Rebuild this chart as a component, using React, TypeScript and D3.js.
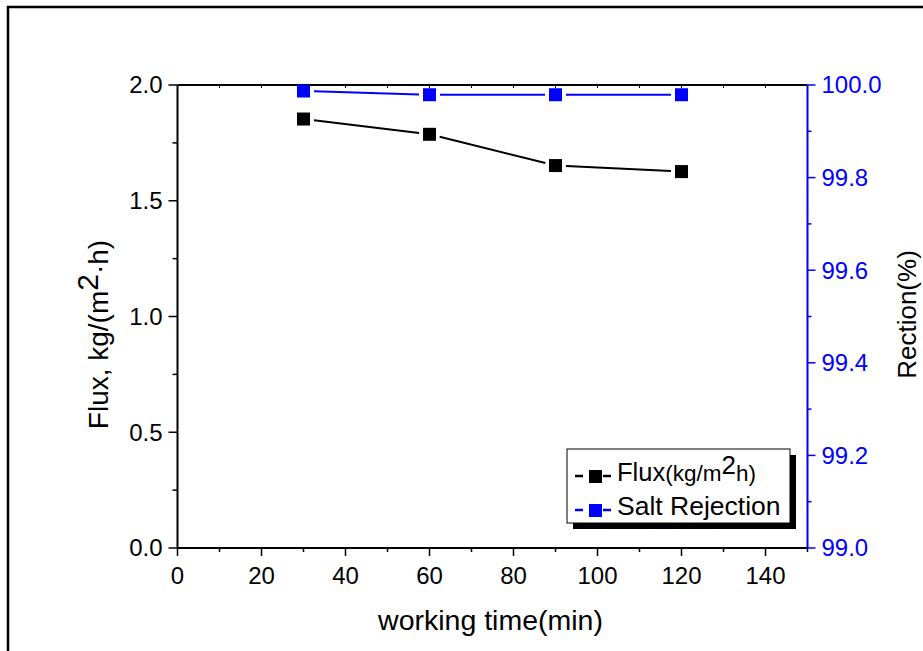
import React from 'react';
import * as d3 from 'd3';

// data
const times = [30, 60, 90, 120];
const flux = [1.853, 1.787, 1.652, 1.626];
const rejection = [99.987, 99.979, 99.979, 99.979];

const xTicks = [0, 20, 40, 60, 80, 100, 120, 140];
const xMinor = [10, 30, 50, 70, 90, 110, 130, 150];
const yLeftTicks = [0, 0.5, 1.0, 1.5, 2.0];
const yLeftMinor = [0.25, 0.75, 1.25, 1.75];
const yRightTicks = [99.0, 99.2, 99.4, 99.6, 99.8, 100.0];
const yRightMinor = [99.1, 99.3, 99.5, 99.7, 99.9];

const FONT = "'Liberation Sans', Arial, sans-serif";
const BLUE = '#0000ff';

// draws line pieces between markers, leaving a small gap near each marker
function gappedSegments(pts: [number, number][], gap: number) {
    const segs = [];
    for (let i = 0; i < pts.length - 1; i++) {
        const [x1, y1] = pts[i];
        const [x2, y2] = pts[i + 1];
        const len = Math.hypot(x2 - x1, y2 - y1);
        const ux = (x2 - x1) / len;
        const uy = (y2 - y1) / len;
        segs.push({
            x1: x1 + ux * gap, y1: y1 + uy * gap,
            x2: x2 - ux * gap, y2: y2 - uy * gap
        });
    }
    return segs;
}

export default function App() {
    const width = 923;
    const height = 651;
    const left = 177.5;
    const right = 807.5;
    const top = 85;
    const bottom = 548;

    const x = d3.scaleLinear().domain([0, 150]).range([left, right]);
    const yL = d3.scaleLinear().domain([0, 2]).range([bottom, top]);
    const yR = d3.scaleLinear().domain([99, 100]).range([bottom, top]);

    const fluxPts: [number, number][] = times.map((t, i) => [x(t), yL(flux[i])]);
    const rejPts: [number, number][] = times.map((t, i) => [x(t), yR(rejection[i])]);
    const ms = 13; // marker size

    const tickFont = 24;

    return (
        <svg width={width} height={height}
            style={{ position: 'absolute', left: 0, top: 0, background: '#fff' }}
            fontFamily={FONT}>
            <rect x={0} y={0} width={width} height={height} fill="#fff" />
            {/* outer frame */}
            <path d={`M8,${height} V7 H${width}`} fill="none" stroke="#000" strokeWidth={2.5} />

            {/* top axis */}
            <line x1={left} x2={right} y1={top} y2={top} stroke="#000" strokeWidth={2} />
            {[...xTicks, ...xMinor].filter(t => t > 0 && t < 150).map(t => (
                <line key={'tt' + t} x1={x(t)} x2={x(t)} y1={top} y2={top + 3} stroke="#000" strokeWidth={1} />
            ))}

            {/* bottom axis */}
            <line x1={left} x2={right} y1={bottom} y2={bottom} stroke="#000" strokeWidth={2} />
            {xTicks.map(t => (
                <g key={'bx' + t}>
                    <line x1={x(t)} x2={x(t)} y1={bottom} y2={bottom + 8} stroke="#000" strokeWidth={1.5} />
                    <text x={x(t)} y={bottom + 36} textAnchor="middle" fontSize={tickFont}>{t}</text>
                </g>
            ))}
            {xMinor.map(t => (
                <line key={'bm' + t} x1={x(t)} x2={x(t)} y1={bottom} y2={bottom + 4} stroke="#000" strokeWidth={1.5} />
            ))}
            <text x={x(75) - 2} y={630} textAnchor="middle" fontSize={28.5}>working time(min)</text>

            {/* left axis */}
            <line x1={left} x2={left} y1={top} y2={bottom} stroke="#000" strokeWidth={2} />
            {yLeftTicks.map(t => (
                <g key={'ly' + t}>
                    <line x1={left - 9} x2={left} y1={yL(t)} y2={yL(t)} stroke="#000" strokeWidth={1.5} />
                    <text x={left - 15} y={yL(t)} dy="0.35em" textAnchor="end" fontSize={tickFont}>{t.toFixed(1)}</text>
                </g>
            ))}
            {yLeftMinor.map(t => (
                <line key={'lm' + t} x1={left - 5} x2={left} y1={yL(t)} y2={yL(t)} stroke="#000" strokeWidth={1.5} />
            ))}
            <text transform={`translate(108,${yL(1) + 18}) rotate(-90)`} textAnchor="middle" fontSize={28}>
                Flux, kg/(m<tspan fontSize={30} dy={-10}>2</tspan><tspan dy={10}>·h)</tspan>
            </text>

            {/* right axis */}
            <line x1={right} x2={right} y1={top} y2={bottom} stroke={BLUE} strokeWidth={2} />
            {yRightTicks.map(t => (
                <g key={'ry' + t}>
                    <line x1={right} x2={right + 8} y1={yR(t)} y2={yR(t)} stroke={BLUE} strokeWidth={1.5} />
                    <text x={right + 14} y={yR(t)} dy="0.35em" fill={BLUE} fontSize={tickFont}>{t.toFixed(1)}</text>
                </g>
            ))}
            {yRightMinor.map(t => (
                <line key={'rm' + t} x1={right} x2={right + 4} y1={yR(t)} y2={yR(t)} stroke={BLUE} strokeWidth={1.5} />
            ))}
            <text transform={`translate(916,${yR(99.5) - 2}) rotate(-90)`} textAnchor="middle" fontSize={26}>Rection(%)</text>

            {/* flux series */}
            {gappedSegments(fluxPts, 10.5).map((s, i) => (
                <line key={'fs' + i} {...s} stroke="#000" strokeWidth={2} />
            ))}
            {fluxPts.map(([px, py], i) => (
                <rect key={'fp' + i} x={px - ms / 2} y={py - ms / 2} width={ms} height={ms} fill="#000" />
            ))}

            {/* rejection series */}
            {gappedSegments(rejPts, 10.5).map((s, i) => (
                <line key={'rs' + i} {...s} stroke={BLUE} strokeWidth={2} />
            ))}
            {rejPts.map(([px, py], i) => (
                <rect key={'rp' + i} x={px - ms / 2} y={py - ms / 2} width={ms} height={ms} fill={BLUE} />
            ))}

            {/* legend */}
            <rect x={573} y={455} width={223} height={74} fill="#000" />
            <rect x={567} y={449} width={223} height={74} fill="#fff" stroke="#000" strokeWidth={1} />
            <g>
                <line x1={575} x2={583} y1={476} y2={476} stroke="#000" strokeWidth={2.5} />
                <rect x={589} y={470} width={13} height={13} fill="#000" />
                <line x1={603} x2={611} y1={476} y2={476} stroke="#000" strokeWidth={2.5} />
                <text x={617} y={481} fontSize={25.5}>
                    Flux<tspan fontSize={22.5}>(kg/m</tspan><tspan fontSize={26} dy={-7}>2</tspan><tspan fontSize={22.5} dy={7}>h)</tspan>
                </text>
            </g>
            <g>
                <line x1={575} x2={583} y1={510} y2={510} stroke={BLUE} strokeWidth={2.5} />
                <rect x={589} y={504} width={13} height={13} fill={BLUE} />
                <line x1={603} x2={611} y1={510} y2={510} stroke={BLUE} strokeWidth={2.5} />
                <text x={617} y={515} fontSize={26.5}>Salt Rejection</text>
            </g>
        </svg>
    );
}
